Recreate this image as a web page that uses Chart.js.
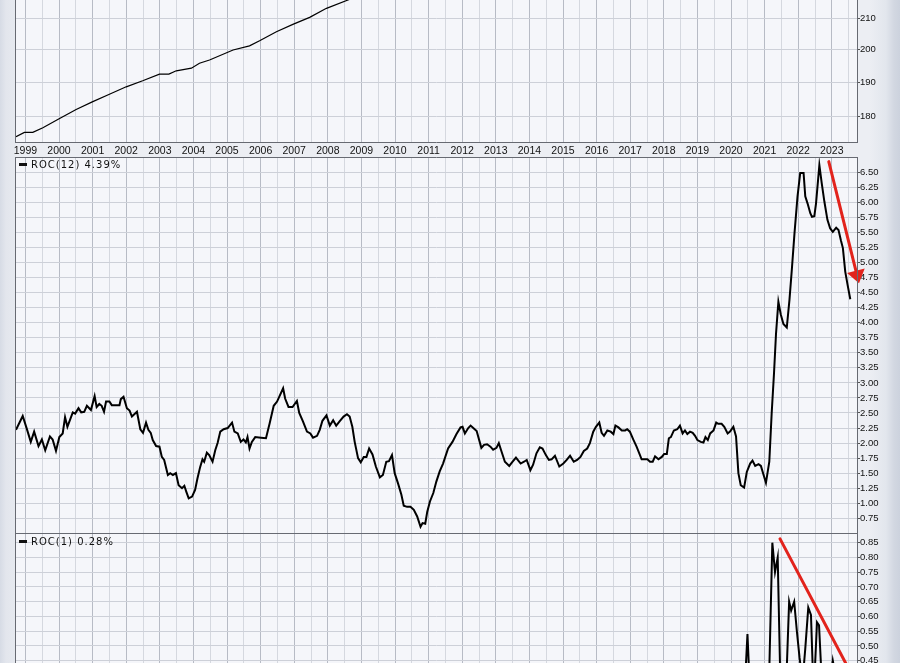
<!DOCTYPE html>
<html>
<head>
<meta charset="utf-8">
<script src="https://cdn.jsdelivr.net/npm/chart.js@4.4.0/dist/chart.umd.min.js"></script>
<style>
  html, body { margin: 0; padding: 0; }
  body {
    width: 900px; height: 663px; overflow: hidden; position: relative;
    background: linear-gradient(to right, #d6dbe5 0px, #e3e6ed 6px, #e6e9ef 15px, #eceef3 16px, #eceef3 870px, #e2e6ed 886px, #d2d7e1 894px, #ccd2dd 900px);
  }
  canvas { position: absolute; left: 0; }
</style>
</head>
<body>
<canvas id="price" width="900" height="157" style="top:0px"></canvas>
<canvas id="roc12" width="900" height="377" style="top:157px"></canvas>
<canvas id="roc1" width="900" height="129" style="top:534px"></canvas>
<script>
// x axis labels (years)
const yearLabels = ["1999", "2000", "2001", "2002", "2003", "2004", "2005", "2006", "2007", "2008", "2009", "2010",
  "2011", "2012", "2013", "2014", "2015", "2016", "2017", "2018", "2019", "2020", "2021", "2022", "2023"];

// price panel (log scale, line leaves the top in 2009)
const priceDates = [1998.72, 1998.97, 1999.22, 1999.52, 1999.99, 2000.51, 2000.99, 2001.5, 2002.0, 2002.49, 2002.99,
  2003.27, 2003.49, 2003.94, 2004.18, 2004.48, 2005.18, 2005.67, 2005.97, 2006.47, 2006.96, 2007.46, 2007.96, 2008.6, 2009.0];
const priceValues = [174.4, 175.6, 175.6, 176.9, 179.3, 182.0, 184.2, 186.4, 188.6, 190.4, 192.4,
  192.4, 193.4, 194.2, 195.7, 196.7, 199.8, 201.1, 202.7, 205.6, 208.0, 210.3, 213.3, 216.1, 218.0];
const priceTicks = [180, 190, 200, 210];

// ROC(12)
const roc12Dates = [1998.72, 1998.92, 1999.04, 1999.16, 1999.26, 1999.39, 1999.49, 1999.59, 1999.73, 1999.81, 1999.91,
  2000.01, 2000.11, 2000.18, 2000.25, 2000.41, 2000.48, 2000.58, 2000.66, 2000.75, 2000.83, 2000.95,
  2001.06, 2001.12, 2001.2, 2001.27, 2001.34, 2001.4, 2001.5, 2001.57, 2001.72, 2001.8, 2001.84, 2001.92,
  2002.02, 2002.1, 2002.17, 2002.32, 2002.42, 2002.5, 2002.59, 2002.66, 2002.73, 2002.79, 2002.89, 2002.99,
  2003.06, 2003.13, 2003.24, 2003.31, 2003.39, 2003.48, 2003.56, 2003.66, 2003.73, 2003.79, 2003.86, 2003.96,
  2004.05, 2004.12, 2004.2, 2004.27, 2004.32, 2004.4, 2004.47, 2004.57, 2004.65, 2004.72, 2004.8, 2004.9,
  2005.02, 2005.15, 2005.22, 2005.32, 2005.41, 2005.49, 2005.56, 2005.61, 2005.67, 2005.74, 2005.84,
  2006.01, 2006.16, 2006.27, 2006.39, 2006.49, 2006.67, 2006.73, 2006.83, 2006.95,
  2007.08, 2007.15, 2007.26, 2007.38, 2007.48, 2007.56, 2007.68, 2007.76, 2007.84, 2007.96,
  2008.06, 2008.16, 2008.25, 2008.35, 2008.47, 2008.57, 2008.65, 2008.73, 2008.8, 2008.9, 2008.98,
  2009.07, 2009.15, 2009.23, 2009.33, 2009.43, 2009.55, 2009.64, 2009.74, 2009.82, 2009.91, 2009.99,
  2010.09, 2010.19, 2010.26, 2010.36, 2010.46, 2010.56, 2010.66, 2010.76, 2010.82, 2010.9, 2010.96,
  2011.04, 2011.14, 2011.23, 2011.33, 2011.43, 2011.58, 2011.71, 2011.83, 2011.95,
  2012.01, 2012.08, 2012.18, 2012.25, 2012.33, 2012.43, 2012.57, 2012.65, 2012.74, 2012.84, 2012.92,
  2013.02, 2013.09, 2013.17, 2013.27, 2013.4, 2013.5, 2013.6, 2013.74, 2013.84, 2013.92,
  2014.03, 2014.11, 2014.21, 2014.31, 2014.39, 2014.49, 2014.58, 2014.66, 2014.76, 2014.89,
  2015.01, 2015.11, 2015.21, 2015.32, 2015.42, 2015.52, 2015.62, 2015.72, 2015.8, 2015.9, 2015.98,
  2016.08, 2016.15, 2016.22, 2016.32, 2016.42, 2016.5, 2016.56, 2016.65, 2016.75, 2016.85, 2016.91, 2016.99,
  2017.09, 2017.19, 2017.27, 2017.34, 2017.44, 2017.51, 2017.59, 2017.67, 2017.74, 2017.84, 2017.94,
  2018.01, 2018.09, 2018.15, 2018.21, 2018.3, 2018.4, 2018.48, 2018.56, 2018.63, 2018.7, 2018.78, 2018.86, 2018.93,
  2019.0, 2019.1, 2019.18, 2019.24, 2019.31, 2019.38, 2019.48, 2019.56, 2019.62, 2019.72, 2019.8, 2019.9, 2019.97,
  2020.07, 2020.15, 2020.22, 2020.29, 2020.39, 2020.47, 2020.57, 2020.64, 2020.72, 2020.82, 2020.89, 2020.97,
  2021.04, 2021.14, 2021.21, 2021.28, 2021.34, 2021.41, 2021.48, 2021.56, 2021.66, 2021.74, 2021.81, 2021.89, 2021.98,
  2022.06, 2022.16, 2022.21, 2022.28, 2022.36, 2022.41, 2022.48, 2022.53, 2022.63, 2022.7, 2022.78, 2022.87, 2022.95,
  2023.03, 2023.13, 2023.2, 2023.27, 2023.33, 2023.4, 2023.47, 2023.55];
const roc12Values = [2.22, 2.45, 2.24, 2.02, 2.19, 1.95, 2.06, 1.88, 2.11, 2.06, 1.87,
  2.10, 2.16, 2.43, 2.27, 2.51, 2.49, 2.58, 2.51, 2.52, 2.62, 2.55,
  2.78, 2.60, 2.65, 2.62, 2.52, 2.69, 2.69, 2.63, 2.63, 2.63, 2.73, 2.77,
  2.58, 2.54, 2.44, 2.52, 2.23, 2.17, 2.34, 2.22, 2.17, 2.05, 1.95, 1.94,
  1.77, 1.72, 1.47, 1.50, 1.47, 1.50, 1.30, 1.25, 1.29, 1.19, 1.08, 1.11,
  1.22, 1.41, 1.60, 1.73, 1.69, 1.84, 1.80, 1.69, 1.88, 2.00, 2.19, 2.23,
  2.25, 2.34, 2.19, 2.16, 2.02, 2.06, 2.01, 2.10, 1.91, 2.02, 2.10,
  2.09, 2.08, 2.33, 2.62, 2.69, 2.91, 2.74, 2.60, 2.60,
  2.70, 2.50, 2.36, 2.19, 2.16, 2.09, 2.12, 2.22, 2.37, 2.46,
  2.29, 2.38, 2.29, 2.36, 2.44, 2.48, 2.44, 2.27, 2.02, 1.75, 1.68,
  1.77, 1.77, 1.91, 1.81, 1.61, 1.43, 1.47, 1.69, 1.70, 1.80, 1.50,
  1.33, 1.14, 0.96, 0.94, 0.94, 0.89, 0.78, 0.61, 0.67, 0.66, 0.86,
  1.03, 1.17, 1.36, 1.53, 1.66, 1.91, 2.02, 2.15, 2.26,
  2.27, 2.16, 2.25, 2.29, 2.25, 2.20, 1.92, 1.97, 1.98, 1.94, 1.89,
  1.92, 2.00, 1.86, 1.69, 1.62, 1.69, 1.76, 1.66, 1.69, 1.72,
  1.55, 1.64, 1.83, 1.93, 1.91, 1.80, 1.72, 1.73, 1.79, 1.61,
  1.66, 1.72, 1.79, 1.69, 1.72, 1.77, 1.87, 1.91, 2.00, 2.19, 2.27,
  2.34, 2.17, 2.12, 2.21, 2.19, 2.15, 2.29, 2.26, 2.21, 2.21, 2.23, 2.19,
  2.06, 1.94, 1.83, 1.73, 1.73, 1.73, 1.69, 1.69, 1.78, 1.73, 1.77,
  1.82, 1.82, 2.08, 2.10, 2.21, 2.23, 2.29, 2.16, 2.21, 2.15, 2.19, 2.17, 2.12,
  2.05, 2.02, 2.01, 2.10, 2.05, 2.16, 2.21, 2.34, 2.32, 2.32, 2.27, 2.16, 2.19,
  2.27, 2.11, 1.50, 1.30, 1.26, 1.52, 1.66, 1.71, 1.62, 1.65, 1.62, 1.47,
  1.34, 1.69, 2.49, 3.16, 3.82, 4.35, 4.14, 3.98, 3.92, 4.38, 4.88, 5.49, 6.10,
  6.49, 6.49, 6.10, 5.98, 5.82, 5.76, 5.77, 5.98, 6.62, 6.32, 6.01, 5.71, 5.57,
  5.51, 5.58, 5.54, 5.37, 5.24, 4.85, 4.63, 4.39];
const roc12Ticks = [0.75, 1.00, 1.25, 1.50, 1.75, 2.00, 2.25, 2.50, 2.75, 3.00, 3.25, 3.50,
  3.75, 4.00, 4.25, 4.50, 4.75, 5.00, 5.25, 5.50, 5.75, 6.00, 6.25, 6.50];

// ROC(1), only the part that reaches into the visible window
const roc1Dates = [2020.33, 2020.41, 2020.49, 2020.57, 2020.65, 2020.99, 2021.06, 2021.14, 2021.23, 2021.31, 2021.39,
  2021.48, 2021.56, 2021.64, 2021.73, 2021.79, 2021.88, 2021.96, 2022.04, 2022.13, 2022.21, 2022.3, 2022.38,
  2022.46, 2022.56, 2022.62, 2022.71, 2022.79, 2022.88, 2022.96, 2023.03, 2023.11, 2023.2, 2023.29, 2023.37,
  2023.46, 2023.55];
const roc1Values = [0.30, 0.36, 0.54, 0.33, 0.30, 0.30, 0.34, 0.42, 0.85, 0.75, 0.80,
  0.32, 0.30, 0.36, 0.65, 0.62, 0.65, 0.55, 0.46, 0.38, 0.49, 0.63, 0.605,
  0.33, 0.58, 0.57, 0.36, 0.38, 0.40, 0.38, 0.45, 0.40, 0.38, 0.36, 0.40,
  0.30, 0.28];
const roc1Ticks = [0.45, 0.50, 0.55, 0.60, 0.65, 0.70, 0.75, 0.80, 0.85];

Chart.defaults.font.family = "'Liberation Sans', Arial, sans-serif";
Chart.defaults.animation = false;

const xMin = 1998.72;
const xMax = 2023.75;

let toPoints = (dates, values) => dates.map((d, i) => ({ x: d, y: values[i] }));

let xAxis = (showLabels) => ({
  type: "linear",
  min: xMin,
  max: xMax,
  afterBuildTicks: (scale) => {
    let ticks = [];
    yearLabels.forEach((y) => {
      ticks.push({ value: Number(y) });
      ticks.push({ value: Number(y) + 0.5 });
    });
    scale.ticks = ticks;
  },
  afterFit: (scale) => {
    scale.height = showLabels ? 14 : 0;
    scale.paddingLeft = 0;
    scale.paddingRight = 0;
  },
  ticks: {
    display: showLabels,
    autoSkip: false,
    maxRotation: 0,
    padding: 2,
    color: "#111",
    font: { size: 10.5 },
    callback: (v) => (v % 1 === 0 ? String(v) : ""),
  },
  grid: {
    drawTicks: false,
    color: (c) => (c.tick && c.tick.value % 1 === 0 ? "#b7bbc5" : "#d5d8df"),
  },
  border: { display: false },
});

let yAxis = (type, min, max, ticks, decimals) => ({
  type: type,
  position: "right",
  min: min,
  max: max,
  afterBuildTicks: (scale) => {
    scale.ticks = ticks.map((v) => ({ value: v }));
  },
  afterFit: (scale) => {
    scale.width = 43;
    scale.paddingTop = 0;
    scale.paddingBottom = 0;
  },
  ticks: {
    autoSkip: false,
    padding: 0,
    color: "#111",
    font: { size: 9.5 },
    callback: (v) => Number(v).toFixed(decimals),
  },
  grid: { color: "#cdd0d8", tickLength: 3, tickColor: "#555", drawTicks: true },
  border: { display: false },
});

// panel background, frame and the small legend text
const panelFrame = {
  id: "panelFrame",
  beforeDraw(chart) {
    const { ctx, chartArea } = chart;
    ctx.save();
    ctx.fillStyle = "#f5f6fa";
    ctx.fillRect(chartArea.left, chartArea.top, chartArea.width, chartArea.height);
    ctx.restore();
  },
  afterDraw(chart, args, opts) {
    const { ctx, chartArea } = chart;
    ctx.save();
    ctx.strokeStyle = "#676a72";
    ctx.lineWidth = 1;
    ctx.beginPath();
    ctx.moveTo(chartArea.left - 0.5, chartArea.top);
    ctx.lineTo(chartArea.left - 0.5, chartArea.bottom);
    ctx.moveTo(chartArea.right + 0.5, chartArea.top);
    ctx.lineTo(chartArea.right + 0.5, chartArea.bottom);
    if (opts.top) {
      ctx.moveTo(chartArea.left, chartArea.top + 0.5);
      ctx.lineTo(chartArea.right, chartArea.top + 0.5);
    }
    if (opts.bottom) {
      ctx.moveTo(chartArea.left, chartArea.bottom - 0.5);
      ctx.lineTo(chartArea.right, chartArea.bottom - 0.5);
    }
    ctx.stroke();
    if (opts.label) {
      ctx.fillStyle = "#111";
      ctx.fillRect(chartArea.left + 3, chartArea.top + 6, 8, 3);
      ctx.font = "10px 'DejaVu Sans'";
      ctx.letterSpacing = "1px";
      ctx.textBaseline = "middle";
      ctx.fillText(opts.label, chartArea.left + 15, chartArea.top + 8);
    }
    ctx.restore();
  },
};

// red trend marks
const redMarks = {
  id: "redMarks",
  afterDatasetsDraw(chart, args, opts) {
    const { ctx, scales } = chart;
    const x1 = scales.x.getPixelForValue(opts.from[0]);
    const y1 = scales.y.getPixelForValue(opts.from[1]);
    const x2 = scales.x.getPixelForValue(opts.to[0]);
    const y2 = scales.y.getPixelForValue(opts.to[1]);
    ctx.save();
    ctx.strokeStyle = "#e2231c";
    ctx.fillStyle = "#e2231c";
    ctx.lineWidth = 3;
    ctx.lineCap = "round";
    let ex = x2;
    let ey = y2;
    const ang = Math.atan2(y2 - y1, x2 - x1);
    if (opts.head) {
      ex = x2 - opts.head * Math.cos(ang);
      ey = y2 - opts.head * Math.sin(ang);
    }
    ctx.beginPath();
    ctx.moveTo(x1, y1);
    ctx.lineTo(ex, ey);
    ctx.stroke();
    if (opts.head) {
      const w = opts.head * 0.7;
      ctx.beginPath();
      ctx.moveTo(x2, y2);
      ctx.lineTo(ex + w * Math.sin(ang), ey - w * Math.cos(ang));
      ctx.lineTo(ex - w * Math.sin(ang), ey + w * Math.cos(ang));
      ctx.closePath();
      ctx.fill();
    }
    ctx.restore();
  },
};

// Price chart
const priceChart = new Chart(document.getElementById("price"), {
  type: "line",
  data: {
    datasets: [
      {
        data: toPoints(priceDates, priceValues),
        borderColor: "#000",
        borderWidth: 1.2,
        pointRadius: 0,
        tension: 0,
      },
    ],
  },
  options: {
    responsive: false,
    layout: { padding: { left: 16, right: 0, top: 0, bottom: 0 } },
    scales: {
      x: xAxis(true),
      y: yAxis("logarithmic", 172.7, 216.1, priceTicks, 0),
    },
    plugins: {
      legend: { display: false },
      tooltip: { enabled: false },
      panelFrame: { top: false, bottom: true },
    },
  },
  plugins: [panelFrame],
});

// ROC(12) chart
const roc12Chart = new Chart(document.getElementById("roc12"), {
  type: "line",
  data: {
    datasets: [
      {
        data: toPoints(roc12Dates, roc12Values),
        borderColor: "#000",
        borderWidth: 2,
        pointRadius: 0,
        tension: 0,
      },
    ],
  },
  options: {
    responsive: false,
    layout: { padding: { left: 16, right: 0, top: 0, bottom: 0 } },
    scales: {
      x: xAxis(false),
      y: yAxis("linear", 0.489, 6.754, roc12Ticks, 2),
    },
    plugins: {
      legend: { display: false },
      tooltip: { enabled: false },
      panelFrame: { top: true, bottom: true, label: "ROC(12) 4.39%" },
      redMarks: { from: [2022.91, 6.677], to: [2023.81, 4.655], head: 13 },
    },
  },
  plugins: [panelFrame, redMarks],
});

// ROC(1) chart
const roc1Chart = new Chart(document.getElementById("roc1"), {
  type: "line",
  data: {
    datasets: [
      {
        data: toPoints(roc1Dates, roc1Values),
        borderColor: "#000",
        borderWidth: 2,
        pointRadius: 0,
        tension: 0,
      },
    ],
  },
  options: {
    responsive: false,
    layout: { padding: { left: 16, right: 0, top: 0, bottom: 0 } },
    scales: {
      x: xAxis(false),
      y: yAxis("linear", 0.442, 0.8795, roc1Ticks, 2),
    },
    plugins: {
      legend: { display: false },
      tooltip: { enabled: false },
      panelFrame: { top: false, bottom: false, label: "ROC(1) 0.28%" },
      redMarks: { from: [2021.46, 0.863], to: [2023.75, 0.369], head: 0 },
    },
  },
  plugins: [panelFrame, redMarks],
});
</script>
</body>
</html>
